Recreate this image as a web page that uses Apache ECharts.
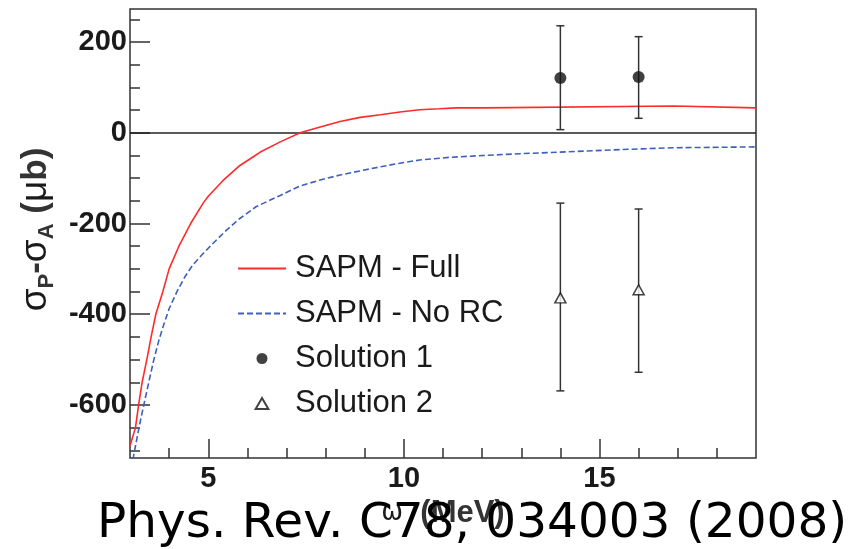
<!DOCTYPE html>
<html><head><meta charset="utf-8">
<script src="https://cdn.jsdelivr.net/npm/echarts@6/dist/echarts.min.js"></script>
<style>html,body{margin:0;padding:0;background:#fff}#c{width:852px;height:549px}</style>
</head><body><div id="c"></div>
<script>
// ---- data ----
const fullX = [3.0, 3.14, 3.22, 3.31, 3.43, 3.54, 3.66, 3.84, 4.0, 4.25, 4.55, 4.87, 5.0, 5.38, 5.81, 6.2, 6.32, 6.84, 7.35, 7.86, 8.37, 8.88, 9.4, 9.9, 10.4, 10.9, 11.34, 12.05, 12.1, 16.9, 16.95, 19.0];
const fullY = [-690, -650, -600, -550, -500, -450, -400, -350, -300, -250, -200, -155, -140, -105, -72, -50, -43, -20, 0, 13, 25, 34, 40, 46, 51, 53, 55, 55, 59, 59, 55, 55];
const noRcX = [3.0, 3.08, 3.23, 3.36, 3.49, 3.61, 3.74, 3.87, 4.0, 4.2, 4.4, 4.6, 4.87, 5.12, 5.46, 5.79, 6.22, 6.84, 7.35, 7.86, 8.37, 8.88, 9.4, 9.9, 10.4, 11.18, 12.03, 12.97, 14.17, 15.53, 16.86, 19.0];
const noRcY = [-780, -718, -650, -597, -546, -500, -457, -421, -388, -350, -318, -292, -266, -244, -215, -190, -163, -138, -117, -104, -93, -84, -75, -67, -60, -54, -50, -46, -42, -37, -33, -31];
const sol1X = [14, 16];
const sol1Y = [121, 123];
const sol1Lo = [7, 32];
const sol1Hi = [236, 212];
const sol2X = [14, 16];
const sol2Y = [-364, -346];
const sol2Lo = [-569, -528];
const sol2Hi = [-155, -168];
const xLabelTicks = [5, 10, 15];
const xMinorTicks = [4, 5, 6, 7, 8, 9, 10, 11, 12, 13, 14, 15, 16, 17, 18];
const yLabelTicks = [-600, -400, -200, 0, 200];
const yMinorTicks = [-700, -650, -600, -550, -500, -450, -400, -350, -300, -250, -200, -150, -100, -50, 0, 50, 100, 150, 200, 250];

const X_MIN = 3, X_MAX = 19, Y_MIN = -717, Y_MAX = 273;

const zip = (a, b) => a.map((v, i) => [v, b[i]]);
const TXT = '#1a1a1a';
const gridRect = {left: 130, top: 9, width: 626, height: 449};
const noLine = {show: false, onZero: false};

const chart = echarts.init(document.getElementById('c'), null, {renderer: 'canvas'});
const option = {
  backgroundColor: '#fff',
  animation: false,
  grid: [
    Object.assign({show: true, borderColor: '#333', borderWidth: 1.5, backgroundColor: 'transparent'}, gridRect),
    Object.assign({show: false}, gridRect)
  ],
  title: {
    text: 'Phys. Rev. C78, 034003 (2008)',
    left: 97, top: 500, padding: 0, z: 20,
    textStyle: {fontFamily: 'DejaVu Sans', fontSize: 48.5, fontWeight: 'normal', color: '#000'}
  },
  legend: {
    orient: 'vertical', left: 237, top: 246, padding: 0,
    itemWidth: 48, itemHeight: 11, itemGap: 0,
    selectedMode: false,
    textStyle: {fontFamily: 'Liberation Sans', fontSize: 31, color: TXT, lineHeight: 45, padding: [0, 0, 0, 4]},
    data: [
      {name: 'SAPM - Full', itemStyle: {opacity: 0}},
      {name: 'SAPM - No RC', itemStyle: {opacity: 0}},
      {name: 'Solution 1', icon: 'circle'},
      {name: 'Solution 2', icon: 'path://M0,-10L8.66,5L-8.66,5Z'}
    ]
  },
  xAxis: [
    {
      type: 'value', gridIndex: 0, min: X_MIN, max: X_MAX, position: 'bottom',
      axisLine: noLine,
      axisTick: {show: true, inside: true, length: 10, customValues: xMinorTicks, lineStyle: {color: '#333', width: 1.5}},
      axisLabel: {customValues: xLabelTicks, margin: 6, fontFamily: 'Liberation Sans', fontWeight: 'bold', fontSize: 29, color: TXT},
      splitLine: {show: false},
      name: '{w|ω}{b|  (MeV)}', nameLocation: 'middle', nameGap: 31,
      nameTextStyle: {rich: {
        w: {fontFamily: 'DejaVu Sans', fontSize: 26, color: TXT},
        b: {fontFamily: 'Liberation Sans', fontWeight: 'bold', fontSize: 31, color: '#333'}
      }}
    },
    {
      type: 'value', gridIndex: 1, min: X_MIN, max: X_MAX, position: 'bottom',
      axisLine: noLine,
      axisTick: {show: true, inside: true, length: 19, customValues: xLabelTicks, lineStyle: {color: '#333', width: 1.5}},
      axisLabel: {show: false}, splitLine: {show: false}
    }
  ],
  yAxis: [
    {
      type: 'value', gridIndex: 0, min: Y_MIN, max: Y_MAX, position: 'left',
      axisLine: noLine,
      axisTick: {show: true, inside: true, length: 10, customValues: yMinorTicks, lineStyle: {color: '#333', width: 1.5}},
      axisLabel: {customValues: yLabelTicks, margin: 3, fontFamily: 'Liberation Sans', fontWeight: 'bold', fontSize: 29, color: TXT},
      splitLine: {show: false},
      name: '{s|σ}{sub|P}{b|-}{s|σ}{sub|A}{b| (}{s|μ}{b|b)}',
      nameLocation: 'middle', nameRotate: 90, nameGap: 68,
      nameTextStyle: {padding: [0, 0, 0, 8], rich: {
        s: {fontFamily: 'Liberation Sans', fontSize: 37, color: TXT, lineHeight: 44},
        b: {fontFamily: 'Liberation Sans', fontWeight: 'bold', fontSize: 35, color: '#333', lineHeight: 44},
        sub: {fontFamily: 'Liberation Sans', fontWeight: 'bold', fontSize: 22, color: '#333', lineHeight: 44, verticalAlign: 'bottom'}
      }}
    },
    {
      type: 'value', gridIndex: 1, min: Y_MIN, max: Y_MAX, position: 'left',
      axisLine: noLine,
      axisTick: {show: true, inside: true, length: 20, customValues: yLabelTicks, lineStyle: {color: '#333', width: 1.5}},
      axisLabel: {show: false}, splitLine: {show: false}
    }
  ],
  series: [
    {
      name: 'SAPM - Full', type: 'line', xAxisIndex: 0, yAxisIndex: 0,
      data: zip(fullX, fullY), symbol: 'none', showSymbol: false, smooth: false, clip: true,
      lineStyle: {color: '#ff2a2a', width: 1.6}, itemStyle: {color: '#ff2a2a'}, z: 4,
      markLine: {
        silent: true, symbol: ['none', 'none'], label: {show: false},
        lineStyle: {color: '#222', width: 1.6, type: 'solid'},
        data: [{yAxis: 0}], z: 3
      }
    },
    {
      name: 'SAPM - No RC', type: 'line', xAxisIndex: 0, yAxisIndex: 0,
      data: zip(noRcX, noRcY), symbol: 'none', showSymbol: false, smooth: false, clip: true,
      lineStyle: {color: '#3f5fbf', width: 1.6, type: [6, 3]}, itemStyle: {color: '#3f5fbf'}, z: 4
    },
    {
      type: 'custom', xAxisIndex: 0, yAxisIndex: 0, z: 5, silent: true,
      data: sol1X.map((x, i) => [x, sol1Y[i], sol1Lo[i], sol1Hi[i]])
        .concat(sol2X.map((x, i) => [x, sol2Y[i], sol2Lo[i], sol2Hi[i]])),
      encode: {x: 0, y: [1, 2, 3]},
      renderItem: function (params, api) {
        const x = api.value(0);
        const pLo = api.coord([x, api.value(2)]);
        const pHi = api.coord([x, api.value(3)]);
        const cap = 4;
        const st = {stroke: '#333', lineWidth: 1.5};
        return {type: 'group', children: [
          {type: 'line', shape: {x1: pLo[0], y1: pLo[1], x2: pHi[0], y2: pHi[1]}, style: st},
          {type: 'line', shape: {x1: pLo[0] - cap, y1: pLo[1], x2: pLo[0] + cap, y2: pLo[1]}, style: st},
          {type: 'line', shape: {x1: pHi[0] - cap, y1: pHi[1], x2: pHi[0] + cap, y2: pHi[1]}, style: st}
        ]};
      }
    },
    {
      name: 'Solution 1', type: 'scatter', xAxisIndex: 0, yAxisIndex: 0, z: 6,
      data: zip(sol1X, sol1Y), symbol: 'circle', symbolSize: 12,
      itemStyle: {color: '#111'}
    },
    {
      name: 'Solution 2', type: 'scatter', xAxisIndex: 0, yAxisIndex: 0, z: 6,
      data: zip(sol2X, sol2Y), symbol: 'triangle', symbolSize: [11, 10],
      itemStyle: {color: '#fff', borderColor: '#111', borderWidth: 1.5}
    }
  ]
};
chart.setOption(option);
</script></body></html>
